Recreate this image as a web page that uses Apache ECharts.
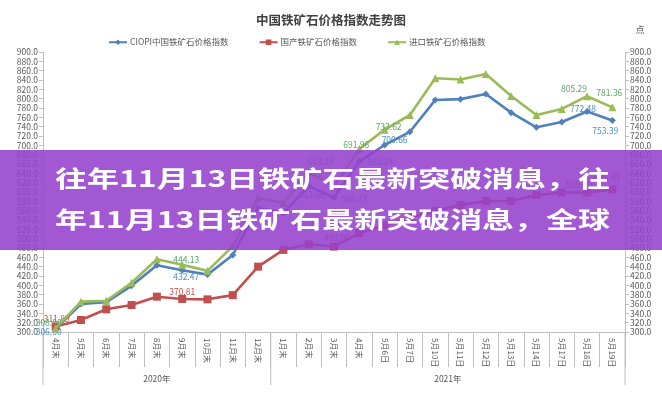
<!DOCTYPE html>
<html><head><meta charset="utf-8">
<script src="https://cdn.jsdelivr.net/npm/echarts@6/dist/echarts.min.js"></script>
<style>html,body{margin:0;padding:0;background:#fff}#c{width:662px;height:400px}</style>
</head><body><div id="c"></div>
<script>
// ---- data ----
const categories = ['4月末','5月末','6月末','7月末','8月末','9月末','10月末','11月末','12月末','1月末','2月末','3月末','4月末','5月6日','5月7日','5月10日','5月11日','5月12日','5月13日','5月14日','5月17日','5月18日','5月19日'];
const groupNames = ['2020年','2021年'];
const groupSizes = [9, 14];
const seriesNames = ['CIOPI中国铁矿石价格指数','国产铁矿石价格指数','进口铁矿石价格指数'];
const ciopi    = [306.60,360,364,399,443,432.47,423,465,566,555,612.66,588.23,665.24,700.66,729,797,799,810,770,738.6,750,772.48,753.39];
const domestic = [311.89,325.7,348.6,357.9,375.7,370.81,370,379,440,476,488,483,512,529,545,560,572,580.7,580.7,593.5,599,599,605.43];
const imported = [308,365,367,405.6,455.8,444.13,431,484,587,577,643.28,612,691.96,733.62,765,843.6,841,853,805.7,765,778,805.29,781.36];
const yMin = 300, yMax = 900, yStep = 20;
const titleText = '中国铁矿石价格指数走势图';
const unitText = '点';
const overlayLines = ['往年11月13日铁矿石最新突破消息，往','年11月13日铁矿石最新突破消息，全球'];

// ---- styling ----
const FONT = '"Noto Sans CJK SC","Noto Sans",sans-serif';
const lineColors = ['#4f81bd','#c0504d','#9bbb59'];
const labelColors = ['#4a8fc8','#c0504d','#55a86a'];
const symbols = ['diamond','rect','triangle'];
const symbolSizes = [7,8,8];
// label offsets (relative to the point), keyed by category index
const labelOffsets = [
  {0:[-7,3],5:[4,7],9:[22,10],10:[3,9],11:[20,1],12:[21,0],13:[10,-5],21:[-4,-3],22:[-7,10]},
  {0:[1,-8],5:[0,-7],11:[3,-9],21:[-8,-8],22:[-5,-12]},
  {0:[-7,-6],5:[4,-5],10:[12,-10],12:[-3,-4],13:[4,-3],21:[-13,-7],22:[-3,-15]}
];
const values = [ciopi, domestic, imported];

const series = values.map((arr, s) => ({
  name: seriesNames[s],
  type: 'line',
  data: arr.map((v, i) => {
    const o = labelOffsets[s][i];
    return o ? {value: v, label: {show: true, position: 'inside', offset: o}} : v;
  }),
  symbol: symbols[s],
  symbolSize: symbolSizes[s],
  showAllSymbol: true,
  itemStyle: {color: lineColors[s]},
  lineStyle: {color: lineColors[s], width: 2.6},
  label: {show: false, color: labelColors[s], fontSize: 8.5, fontFamily: FONT,
          formatter: p => Number(p.value).toFixed(2)},
  emphasis: {disabled: true},
  z: 2 + s
}));

const axisGrey = '#bfbfbf';
const textGrey = '#595959';
const yAxisCommon = {
  type: 'value', min: yMin, max: yMax, interval: yStep,
  axisLine: {show: true, lineStyle: {color: axisGrey}},
  axisTick: {show: true, length: 4, lineStyle: {color: axisGrey}},
  splitLine: {show: false},
  axisLabel: {color: textGrey, fontSize: 8.5, fontFamily: FONT, margin: 5,
              formatter: v => v.toFixed(1)}
};

const chart = echarts.init(document.getElementById('c'), null, {renderer: 'canvas'});
chart.setOption({
  animation: false,
  backgroundColor: '#ffffff',
  title: {text: titleText, left: 'center', top: 9,
          textStyle: {fontSize: 12.5, fontWeight: 'bold', color: '#404040', fontFamily: FONT}},
  legend: {top: 33, left: 103, itemWidth: 18, itemHeight: 7, itemGap: 30,
           textStyle: {fontSize: 8.5, color: textGrey, fontFamily: FONT, padding: [0,0,0,-2]},
           data: seriesNames},
  grid: {left: 43, right: 37, top: 52, bottom: 68, containLabel: false},
  xAxis: {
    type: 'category', data: categories, boundaryGap: true,
    axisLine: {show: true, lineStyle: {color: axisGrey}},
    axisTick: {show: true, interval: 0, length: 35, lineStyle: {color: axisGrey}},
    axisLabel: {interval: 0, rotate: -90, color: textGrey, fontSize: 8, fontFamily: FONT, margin: 6}
  },
  yAxis: [
    Object.assign({position: 'left'}, yAxisCommon),
    Object.assign({position: 'right'}, yAxisCommon)
  ],
  series: series
});

// group separators + group labels + overlay, positioned with the library's scales
function build() {
  const px = i => chart.convertToPixel({xAxisIndex: 0}, i);
  const y0 = chart.convertToPixel({yAxisIndex: 0}, yMin);
  const yTop = chart.convertToPixel({yAxisIndex: 0}, yMax);
  const step = px(1) - px(0);
  const elements = [];
  let start = 0;
  const bounds = [px(0) - step / 2];
  groupSizes.forEach((n, g) => {
    const end = start + n - 1;
    const right = px(end) + step / 2;
    bounds.push(right);
    elements.push({type: 'text', x: (px(start) + px(end)) / 2, y: y0 + 47,
      style: {text: groupNames[g], fill: textGrey, font: '8.5px ' + FONT, textAlign: 'center', textVerticalAlign: 'middle'}});
    start += n;
  });
  bounds.forEach(b => elements.push({type: 'line', shape: {x1: b, y1: y0, x2: b, y2: y0 + 53},
    style: {stroke: axisGrey, lineWidth: 1}}));
  const rightAxisX = bounds[bounds.length - 1];
  elements.push({type: 'text', x: rightAxisX + 15, y: yTop - 22,
    style: {text: unitText, fill: textGrey, font: '9px ' + FONT, textAlign: 'center', textVerticalAlign: 'middle'}});
  // overlay banner
  elements.push({type: 'rect', shape: {x: 0, y: 150, width: 662, height: 100}, z: 100,
    style: {fill: 'rgba(150,65,205,0.88)'}});
  overlayLines.forEach((t, k) => elements.push({type: 'text', x: 55, y: 178 + k * 41, z: 101,
    scaleX: 1.39, originX: 0, originY: 0,
    style: {text: t, fill: '#ffffff', font: 'bold 23px ' + FONT, textAlign: 'left', textVerticalAlign: 'middle'}}));
  chart.setOption({graphic: {elements: elements}});
}
build();
</script>
</body></html>
